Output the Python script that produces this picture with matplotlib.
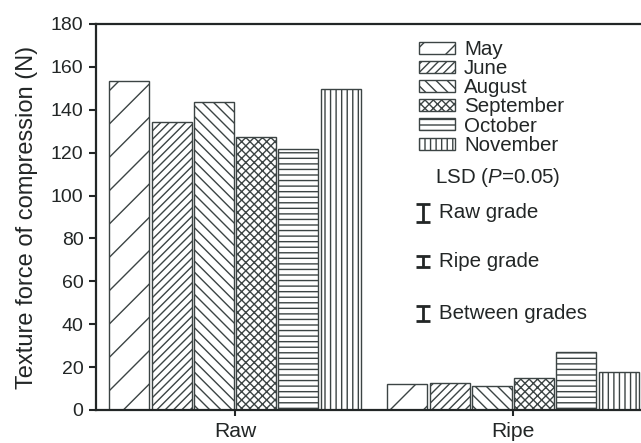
import numpy as np
import matplotlib
matplotlib.use("Agg")
import matplotlib.pyplot as plt

plt.rcParams['font.family'] = ['Liberation Sans', 'DejaVu Sans']
plt.rcParams['mathtext.fontset'] = 'custom'
plt.rcParams['mathtext.rm'] = 'Liberation Sans'
plt.rcParams['mathtext.it'] = 'Liberation Sans:italic'
plt.rcParams['hatch.linewidth'] = 1.0
plt.rcParams['hatch.color'] = '#3c4444'

# texture force (N) by harvest month for each grade
grades = ['Raw', 'Ripe']
months = ['May', 'June', 'August', 'September', 'October', 'November']
raw_force = [153.6, 134.2, 143.5, 127.2, 121.6, 149.6]
ripe_force = [12.0, 12.7, 11.0, 15.1, 27.2, 17.6]
hatches = ['/', '////', '\\\\\\', 'xxxx', '---', '|||']

# LSD (P=0.05) bar lengths
lsd_labels = ['Raw grade', 'Ripe grade', 'Between grades']
lsd_values = [8.5, 5.3, 6.8]
lsd_y = [92.0, 69.2, 45.1]

ink = '#222626'
edge = '#3c4444'

fig = plt.figure(figsize=(6.41, 4.43), dpi=100)
ax = fig.add_axes([96 / 641, 33 / 443, 556 / 641, 386 / 443])

x = np.arange(len(grades))
step = 0.152
width = 0.144
for i, m in enumerate(months):
    vals = [raw_force[i], ripe_force[i]]
    ax.bar(x + (i - 2.5) * step, vals, width, color='white',
           edgecolor=edge, linewidth=1.0, hatch=hatches[i], label=m)

ax.set_xlim(-0.5, 1.5)
ax.set_ylim(0, 180)
ax.set_yticks(np.arange(0, 181, 20))
ax.set_xticks(x)
ax.set_xticklabels(grades, fontsize=15.2, color=ink)
ax.tick_params(axis='y', labelsize=14, colors=ink, length=5, width=1.5, pad=4)
ax.tick_params(axis='x', length=4, width=1.5, pad=4.5, colors=ink)
ax.set_ylabel('Texture force of compression (N)', fontsize=17, color=ink, labelpad=9)

for s in ['left', 'bottom', 'top', 'right']:
    ax.spines[s].set_linewidth(1.6)
    ax.spines[s].set_color(ink)

leg = ax.legend(loc='upper left', bbox_to_anchor=(419 / 641, 0.910),
                bbox_transform=fig.transFigure, frameon=False,
                fontsize=14.8, handlelength=1.75, handleheight=0.53,
                handletextpad=0.45, labelspacing=0.01, borderpad=0,
                borderaxespad=0)
for t in leg.get_texts():
    t.set_color(ink)

# LSD bars
ax.text(0.718, 108.2, 'LSD ($\\mathit{P}$=0.05)', fontsize=14.8, color=ink,
        va='center', ha='left')
lsd_x = 0.675
for lab, v, yy in zip(lsd_labels, lsd_values, lsd_y):
    ax.errorbar(lsd_x, yy, yerr=v / 2, fmt='none', ecolor=ink,
                elinewidth=2, capsize=5, capthick=2)
    ax.text(lsd_x + 0.06, yy, lab, fontsize=14.8, color=ink,
            va='center', ha='left')

plt.savefig('out.png', dpi=100)
